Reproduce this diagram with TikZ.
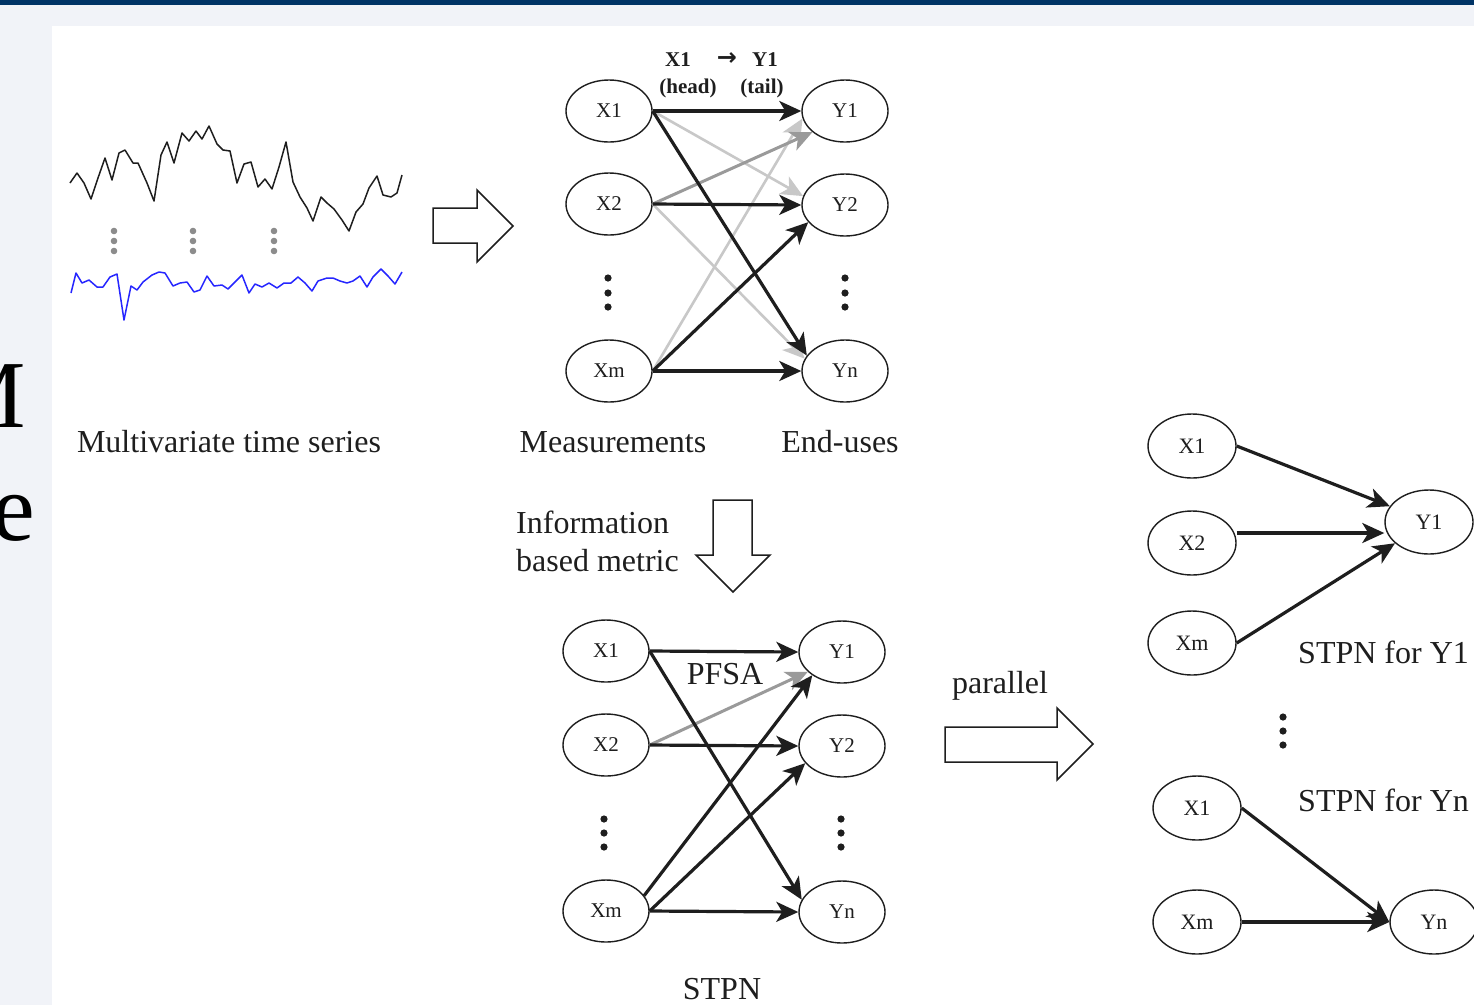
\documentclass[tikz,border=0pt]{standalone}
\usepackage{fontspec}
\setmainfont{Liberation Serif}
\newfontfamily\arrowfont{DejaVu Sans}
\usetikzlibrary{arrows.meta,shapes.geometric}
\definecolor{bar}{HTML}{003466}
\definecolor{bg}{HTML}{F1F3F8}
\definecolor{lgray}{HTML}{C8C8C8}
\definecolor{mgray}{HTML}{9A9A9A}
\definecolor{dotgray}{HTML}{8C8C8C}
\definecolor{ink}{HTML}{1E1E1E}
\definecolor{sigblue}{HTML}{2626FF}
\begin{document}
\begin{tikzpicture}[x=1pt,y=-1pt,
  ell/.style={draw=ink, line width=1.4pt, ellipse, minimum width=86pt, minimum height=62pt, inner sep=0pt, font=\fontsize{21}{21}\selectfont, text=ink},
  rell/.style={ell, minimum width=88pt, minimum height=64pt, font=\fontsize{22}{22}\selectfont},
  tip/.style={-{Stealth[length=22pt,width=20pt,inset=6pt]}},
  blk/.style={tip, line width=3.2pt, draw=ink},
  lgr/.style={tip, line width=2.6pt, draw=lgray},
  mgr/.style={tip, line width=3pt, draw=mgray},
  lbl/.style={font=\fontsize{32}{36}\selectfont, text=ink, inner sep=0pt},
  hdr/.style={font=\bfseries\fontsize{21}{21}\selectfont, text=ink, inner sep=0pt},
  hollow/.style={draw=ink, line width=1.5pt, fill=white, line join=miter},
  vdot/.style={fill=ink},
  sig/.style={line width=1.5pt, line join=round}
]
\useasboundingbox (0,0) rectangle (1474,1005);
\fill[bg] (0,0) rectangle (1474,1005);
\fill[bar] (0,0) rectangle (1474,5);
% cut-off slide text on the left
\node[anchor=base east, inner sep=0pt, font=\fontsize{96}{96}\selectfont] (sm) at (26,427) {M};
\node[anchor=base east, inner sep=0pt, font=\fontsize{96}{96}\selectfont] (se) at (35,540) {e};
\fill[white] (52,26) rectangle (1474,1005);

% time series
\draw[sig, draw=ink] plot coordinates {(70,183) (77,173) (84,183) (91,199) (98,178) (105,158) (112,180) (119,153) (125,150) (133,163) (138,163) (147,183) (154,201) (161,155) (167,142) (174,163) (182,133) (189,141) (196,131) (202,139) (209,126) (217,144) (223,150) (230,151) (237,183) (244,164) (251,162) (258,187) (265,179) (272,189) (279,167) (286,142) (293,182) (300,197) (307,208) (313,221) (321,197) (327,203) (334,209) (342,220) (349,231) (356,212) (363,204) (369,188) (377,176) (383,195) (391,197) (397,193) (402,175)};
\draw[sig, draw=sigblue] plot coordinates {(71,293) (76,273) (82,283) (89,280) (97,287) (103,287) (110,277) (117,274) (124,320) (131,286) (137,290) (143,282) (152,275) (159,272) (165,273) (173,286) (180,283) (187,282) (194,292) (200,290) (207,276) (214,286) (222,285) (228,289) (235,282) (242,275) (249,293) (255,284) (262,287) (269,283) (277,288) (284,283) (291,283) (298,277) (305,283) (312,291) (318,281) (327,278) (333,278) (340,281) (347,283) (353,281) (360,276) (367,287) (373,277) (381,269) (388,276) (395,284) (402,272)};
\foreach \x in {114,193,274}{\foreach \y in {231,241,251}{\fill[dotgray] (\x,\y) circle (3.3);}}
\node[lbl, anchor=base] (mts) at (229,452) {Multivariate time series};

% hollow arrow right
\draw[hollow] (433,208) -- (477,208) -- (477,190) -- (513,226) -- (477,262) -- (477,243) -- (433,243) -- cycle;

% top network
\node[ell] (X1) at (609,111) {X1};
\node[ell] (X2) at (609,204) {X2};
\node[ell] (Xm) at (609,371) {Xm};
\node[ell] (Y1) at (845,111) {Y1};
\node[ell] (Y2) at (845,205) {Y2};
\node[ell] (Yn) at (845,371) {Yn};
\foreach \y in {278,293,307}{\fill[vdot] (608,\y) circle (3.6); \fill[vdot] (845,\y) circle (3.6);}
\node[hdr] (h1) at (678,60) {X1};
\node[hdr, font=\arrowfont\bfseries\fontsize{24}{24}\selectfont] (h2) at (727,59) {→};
\node[hdr] (h3) at (765,60) {Y1};
\node[hdr] (h4) at (688,88) {(head)};
\node[hdr] (h5) at (762,88) {(tail)};
\draw[lgr] (X1.east) -- (Y2.168);
\draw[lgr] (X2.east) -- (Yn.163);
\draw[lgr] (Xm.east) -- (Y1.190);
\draw[mgr] (X2.east) -- (Y1.213);
\draw[blk] (X1.east) -- (Yn.158);
\draw[blk] (Xm.east) -- (Y2.205);
\draw[blk] (X1.east) -- (Y1.west);
\draw[blk] (X2.east) -- (Y2.west);
\draw[blk] (Xm.east) -- (Yn.west);
\node[lbl, anchor=base] (meas) at (613,452) {Measurements};
\node[lbl, anchor=base] (eu) at (840,452) {End-uses};

% down arrow
\draw[hollow] (713,500) -- (752,500) -- (752,555) -- (770,555) -- (733,592) -- (696,555) -- (713,555) -- cycle;
\node[lbl, anchor=base west] (inf1) at (516,533) {Information};
\node[lbl, anchor=base west] (inf2) at (516,571) {based metric};

% bottom network
\node[ell] (bX1) at (606,651) {X1};
\node[ell] (bX2) at (606,745) {X2};
\node[ell] (bXm) at (606,911) {Xm};
\node[ell] (bY1) at (842,652) {Y1};
\node[ell] (bY2) at (842,746) {Y2};
\node[ell] (bYn) at (842,912) {Yn};
\foreach \y in {819,833,847}{\fill[vdot] (604,\y) circle (3.6); \fill[vdot] (841,\y) circle (3.6);}
\draw[mgr] (bX2.east) -- (bY1.210);
\draw[blk] (bX1.east) -- (bY1.west);
\draw[blk] (bX1.east) -- (bYn.163);
\draw[blk] (bX2.east) -- (bY2.west);
\draw[blk] (bXm.22) -- (bY1.218);
\draw[blk] (bXm.east) -- (bY2.205);
\draw[blk] (bXm.east) -- (bYn.west);
\node[lbl, anchor=base] (pfsa) at (725,684) {PFSA};
\node[lbl, anchor=base] (stpn) at (722,999) {STPN};

% parallel arrow
\draw[hollow] (945,727) -- (1057,727) -- (1057,708) -- (1093,744) -- (1057,780) -- (1057,762) -- (945,762) -- cycle;
\node[lbl, anchor=base] (par) at (1000,693) {parallel};

% right networks
\node[rell] (rX1) at (1192,446) {X1};
\node[rell] (rX2) at (1192,543) {X2};
\node[rell] (rXm) at (1192,643) {Xm};
\node[rell] (rY1) at (1429,522) {Y1};
\draw[blk] (rX1.east) -- (rY1.158);
\coordinate (rX2out) at ([yshift=10pt]rX2.east);
\draw[blk] (rX2out) -- (rX2out -| rY1.west);
\draw[blk] (rXm.east) -- (rY1.212);
\node[lbl, anchor=base west] (s1) at (1298,663) {STPN for Y1};
\foreach \y in {717,731,745}{\fill[vdot] (1283,\y) circle (3.6);}
\node[lbl, anchor=base west] (s2) at (1298,811) {STPN for Yn};
\node[rell] (rX1b) at (1197,808) {X1};
\node[rell] (rXmb) at (1197,922) {Xm};
\node[rell] (rYn) at (1434,922) {Yn};
\draw[blk] (rX1b.east) -- (rYn.west);
\draw[blk] (rXmb.east) -- (rYn.west);
\end{tikzpicture}
\end{document}
